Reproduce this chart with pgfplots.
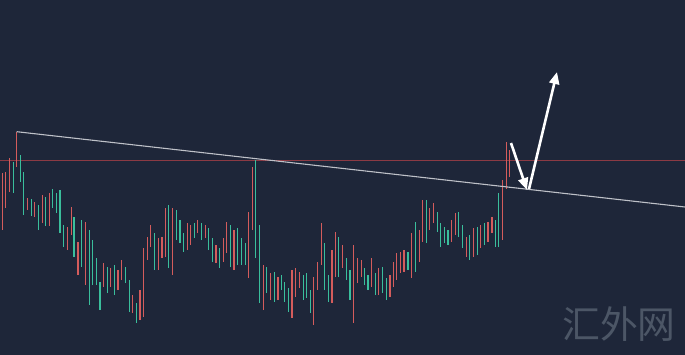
\documentclass[border=0pt]{standalone}
\usepackage{pgfplots}
\pgfplotsset{compat=1.18}
\usepackage{pgfplotstable}
\usetikzlibrary{arrows.meta}
\usepackage{fontspec}
\newfontfamily\cjk{Noto Sans CJK SC}
\definecolor{bg}{RGB}{30,38,57}
\definecolor{upred}{RGB}{212,92,92}
\definecolor{dnteal}{RGB}{58,190,156}
\definecolor{hline}{RGB}{140,58,68}
\definecolor{tline}{RGB}{190,193,200}
\definecolor{wm}{RGB}{76,86,102}

\pgfplotstableread{
x top bot
2.7 173 230
5.3 172 208
9.3 158 192
16.7 132 167
27.3 198 210
34.7 202 217
42.7 195 223
49.3 193 226
67.3 227 250
71.3 207 235
78 242 275
85.3 222 285
103.3 263 287
110.7 268 287
118 270 290
121.3 260 280
132.7 295 313
140 290 320
143.3 248 317
147.3 237 260
150.7 225 247
158.7 238 270
162 237 258
165.3 208 257
172.7 208 275
187.3 223 250
190.7 225 245
197.3 220 233
205.3 225 238
216 245 263
223.3 238 262
226.7 222 253
234 230 270
248.7 212 278
252.7 167 230
263.3 265 310
270.7 273 300
278 277 300
292 270 318
295.3 268 297
299.3 272 288
313.3 277 325
317.3 262 290
321.3 223 265
332 250 303
335.3 232 277
342.7 245 268
353.3 245 323
357.3 258 283
361.3 260 277
371.3 258 287
378.7 268 295
390 275 297
393.3 262 287
396.7 253 280
400.7 252 273
404 250 272
411.3 233 278
419.3 230 262
422.7 200 242
429.3 208 230
433.3 203 223
451.3 220 242
455.3 213 235
466.7 237 257
473.3 228 257
480.7 225 248
488 222 242
492 217 233
502.7 180 240
506.5 142 189
509.5 150 177
}\redbars

\pgfplotstableread{
x top bot
13.3 162 193
20.7 155 182
23.3 172 215
31.3 199 216
38.7 205 230
45.3 197 226
52.7 189 208
56.7 193 213
60 190 233
63.3 225 247
74 217 257
81.3 220 267
89.3 230 305
92.7 240 285
96.7 258 285
100 282 310
107.3 267 293
114.7 265 295
125.3 267 283
129.3 280 312
136.7 303 323
154.7 233 270
168.7 205 268
176.7 210 240
180 220 243
183.3 233 252
194.7 223 238
201.3 223 240
208.7 228 250
212.7 238 262
219.3 248 268
230.7 225 267
237.3 228 265
241.3 238 265
245.3 243 265
255.3 160 258
259.3 225 303
266.7 267 293
274.7 272 302
281.3 275 290
284.7 282 302
288.7 288 312
303.3 275 300
306.7 273 298
310.7 290 313
324.7 243 290
328.7 275 302
338.7 237 277
346.7 258 280
350 270 300
364.7 268 285
368 275 290
375.3 273 295
382.7 267 293
386.7 278 300
408 252 270
415.3 222 272
426.7 200 243
437.3 212 232
440.7 223 247
444.7 227 243
448 230 245
458.7 212 237
462.7 225 248
469.3 235 260
477.3 227 255
484.7 223 245
495.3 220 247
498.7 193 247
}\tealbars

\begin{document}
\begin{tikzpicture}
\begin{axis}[
  scale only axis, width=685bp, height=355bp,
  xmin=0, xmax=685, ymin=0, ymax=355, y dir=reverse,
  axis line style={draw=none}, ticks=none,
  axis background/.style={fill=bg},
  clip=true,
]
\addplot[hline, line width=0.9bp, mark=none] coordinates {(0,160) (685,160)};
\addplot[upred, line width=1.2bp, mark=none, quiver={u=0, v=\thisrow{bot}-\thisrow{top}}] table[x=x, y=top] {\redbars};
\addplot[dnteal, line width=1.2bp, mark=none, quiver={u=0, v=\thisrow{bot}-\thisrow{top}}] table[x=x, y=top] {\tealbars};
\addplot[tline, line width=1.1bp, mark=none] coordinates {(16.7,131.7) (685,207)};
\addplot[white, line width=2.6bp, mark=none, -{Triangle[length=12bp, width=10bp]}] coordinates {(511,143) (527,190)};
\addplot[white, line width=2.6bp, mark=none, -{Triangle[length=12bp, width=10bp]}] coordinates {(529,189) (557,72)};
\node[text=wm, font=\cjk\fontsize{38}{40}\selectfont, inner sep=0pt] at (axis cs:619,324) {汇外网};
\end{axis}
\end{tikzpicture}
\end{document}
